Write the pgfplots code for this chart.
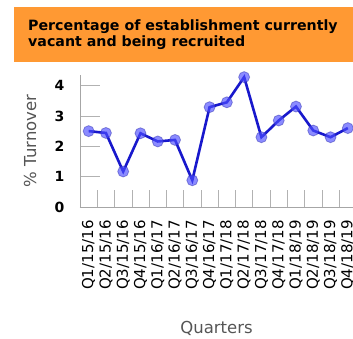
\documentclass[border=0pt]{standalone}
\usepackage{pgfplots}
\pgfplotsset{compat=1.18}
\usepackage{fontspec}
\setmainfont{DejaVu Sans}
\definecolor{titleorange}{HTML}{FF9933}
\definecolor{lineblue}{HTML}{1818CC}
\definecolor{markblue}{HTML}{4D4DFF}
\definecolor{labgray}{HTML}{555555}
\pgfplotstableread{
x y
0 2.50
1 2.44
2 1.17
3 2.43
4 2.16
5 2.21
6 0.88
7 3.29
8 3.45
9 4.28
10 2.30
11 2.85
12 3.31
13 2.52
14 2.30
15 2.60
}\datatable
\begin{document}
\begin{tikzpicture}[x=1pt,y=1pt]
\useasboundingbox (-80,-132) rectangle (273,207);
\fill[titleorange] (-66,145) rectangle (273,200);
\node[anchor=west, align=left, inner sep=0pt, font=\bfseries\fontsize{14.2}{16.5}\selectfont] at (-52,172.5) {Percentage of establishment currently\\vacant and being recruited};
\begin{axis}[
  at={(0,0)}, anchor=south west,
  scale only axis, width=273pt, height=132pt,
  xmin=-0.5, xmax=15.3, ymin=0, ymax=4.35,
  axis lines*=left,
  axis line style={draw=gray!70, line width=0.8pt},
  tick align=inside,
  ytick={0,1,2,3,4},
  major tick length=20pt,
  minor tick length=17pt,
  xtick={0,...,15},
  xticklabels={Q1/15/16,Q2/15/16,Q3/15/16,Q4/15/16,Q1/16/17,Q2/16/17,Q3/16/17,Q4/16/17,Q1/17/18,Q2/17/18,Q3/17/18,Q4/17/18,Q1/18/19,Q2/18/19,Q3/18/19,Q4/18/19},
  minor xtick={0.5,1.5,...,14.5},
  major x tick style={draw=none},
  every tick/.style={draw=gray!60, line width=0.6pt},
  minor x tick style={draw=gray!60, line width=0.6pt},
  /pgf/number format/assume math mode=true,
  yticklabel style={font=\bfseries\fontsize{14}{16}\selectfont, xshift=-12pt},
  xticklabel style={yshift=-13pt, font=\fontsize{15}{15}\selectfont, rotate=90, anchor=east, inner sep=0pt},
  ylabel={\% Turnover},
  ylabel style={at={(axis description cs:-0.183,0.5)}, anchor=center, rotate=0, font=\fontsize{16.5}{18}\selectfont, text=labgray},
  xlabel={Quarters},
  xlabel style={at={(axis description cs:0.5,-0.917)}, anchor=center, font=\fontsize{16.5}{18}\selectfont, text=labgray},
  clip=false,
]
\addplot[draw=lineblue, line width=2.6pt, mark=*, mark size=5.5pt,
  mark options={fill=markblue, fill opacity=0.65, draw=markblue!70!black, draw opacity=0.5, line width=0.8pt}]
  table[x=x,y=y]{\datatable};
\end{axis}
\end{tikzpicture}
\end{document}
